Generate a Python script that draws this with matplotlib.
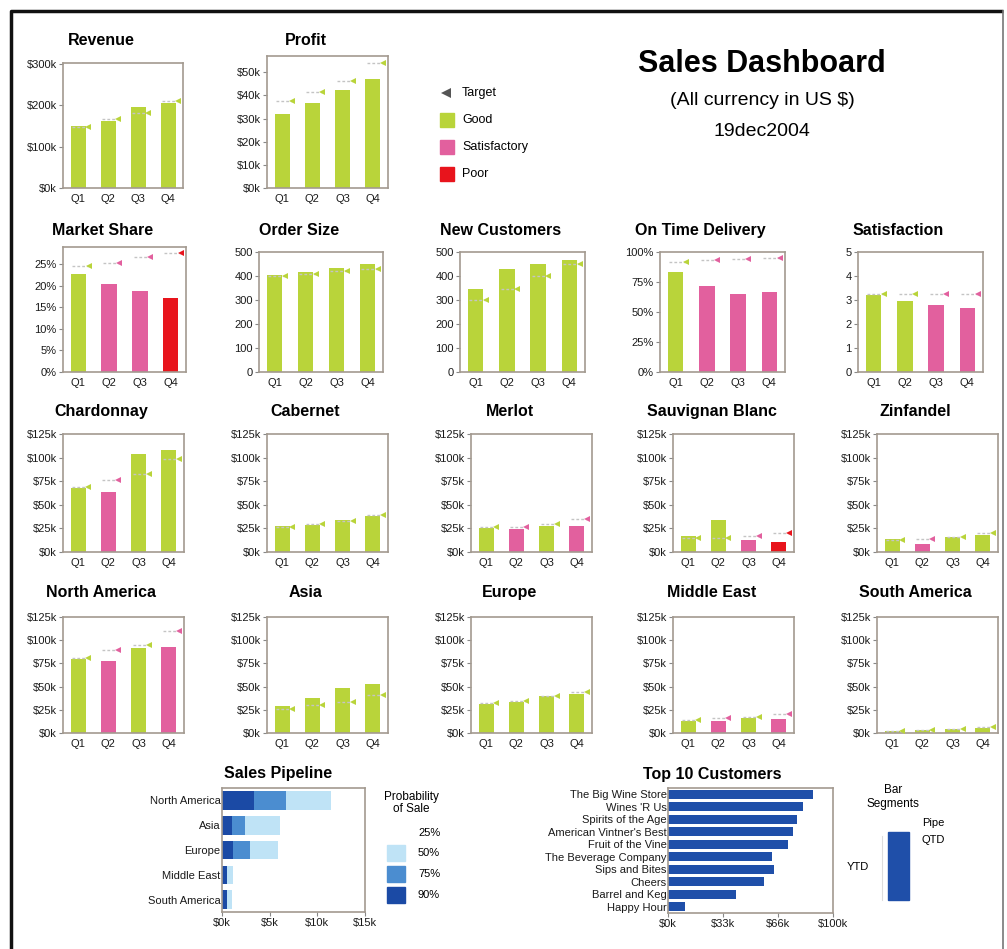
import numpy as np
import matplotlib
matplotlib.use('Agg')
import matplotlib.pyplot as plt
from matplotlib.patches import Rectangle

plt.rcParams['font.family'] = ['Liberation Sans', 'DejaVu Sans']

# ---- data (k$ unless noted) ----
quarters = ['Q1', 'Q2', 'Q3', 'Q4']

revenue = [150, 163, 195, 205]
revenue_target = [148, 166, 180, 210]
revenue_status = ['G', 'G', 'G', 'G']

profit = [32, 36.5, 42.5, 47]
profit_target = [37.5, 41.5, 46, 54]
profit_status = ['G', 'G', 'G', 'G']

market_share = [22.8, 20.5, 18.8, 17.2]
market_share_target = [24.5, 25.2, 26.6, 27.6]
market_share_status = ['G', 'S', 'S', 'P']

order_size = [404, 417, 433, 450]
order_size_target = [400, 410, 420, 430]
order_size_status = ['G', 'G', 'G', 'G']

new_customers = [345, 430, 448, 466]
new_customers_target = [300, 345, 400, 450]
new_customers_status = ['G', 'G', 'G', 'G']

on_time = [83, 72, 65, 67]
on_time_target = [92, 93, 94, 95]
on_time_status = ['G', 'S', 'S', 'S']

satisfaction = [3.2, 2.95, 2.8, 2.65]
satisfaction_target = [3.25, 3.25, 3.25, 3.25]
satisfaction_status = ['G', 'G', 'S', 'S']

chardonnay = [68, 64, 104, 108]
chardonnay_target = [69, 76, 83, 99]
chardonnay_status = ['G', 'S', 'G', 'G']

cabernet = [28, 29, 34, 38]
cabernet_target = [27, 30, 33, 39]
cabernet_status = ['G', 'G', 'G', 'G']

merlot = [25, 24, 28, 28]
merlot_target = [26, 26, 30, 35]
merlot_status = ['G', 'S', 'G', 'S']

sauvignon = [17, 34, 13, 11]
sauvignon_target = [15, 15, 17, 20]
sauvignon_status = ['G', 'G', 'S', 'P']

zinfandel = [14, 9, 16, 18]
zinfandel_target = [13, 14, 16, 20]
zinfandel_status = ['G', 'S', 'G', 'G']

north_america = [80, 78, 92, 93]
north_america_target = [81, 89, 95, 110]
north_america_status = ['G', 'S', 'G', 'S']

asia = [29, 38, 49, 53]
asia_target = [26, 30, 33, 41]
asia_status = ['G', 'G', 'G', 'G']

europe = [31, 33, 40, 42]
europe_target = [32, 34, 40, 44]
europe_status = ['G', 'G', 'G', 'G']

middle_east = [12.5, 12.5, 16, 15.5]
middle_east_target = [14, 16, 17.5, 20]
middle_east_status = ['G', 'S', 'G', 'S']

south_america = [2, 3, 4, 5]
south_america_target = [2.5, 3.6, 4.7, 6]
south_america_status = ['G', 'G', 'G', 'G']

pipe_regions = ['North America', 'Asia', 'Europe', 'Middle East', 'South America']
pipe_90 = [3.35, 1.0, 1.2, 0.5, 0.5]
pipe_75 = [3.4, 1.4, 1.7, 0.0, 0.0]
pipe_50 = [4.65, 3.7, 3.0, 0.7, 0.5]

customers = ['The Big Wine Store', "Wines 'R Us", 'Spirits of the Age',
             "American Vintner's Best", 'Fruit of the Vine', 'The Beverage Company',
             'Sips and Bites', 'Cheers', 'Barrel and Keg', 'Happy Hour']
customer_ytd = [88, 82, 78, 76, 73, 63, 64, 58, 41, 10]

# ---- style ----
W, H = 1007, 949
colors = {'G': '#b9d43a', 'S': '#e2609e', 'P': '#e8141c'}
frame_col = '#a39a90'
fig = plt.figure(figsize=(W / 100, H / 100), dpi=100)

# overlay in pixel coords for the border, legends and header text
ov = fig.add_axes([0, 0, 1, 1], zorder=0)
ov.set_xlim(0, W)
ov.set_ylim(H, 0)
ov.axis('off')
ov.plot([11, 11, 1003], [H + 5, 11, 11], color='#111111', lw=2.5, solid_capstyle='butt')
ov.plot([1003, 1003], [11, H + 5], color='#777777', lw=1.2)


def px_axes(l, t, r, b):
    ax = fig.add_axes([l / W, 1 - b / H, (r - l) / W, (b - t) / H], zorder=2)
    for s in ax.spines.values():
        s.set_color(frame_col)
        s.set_linewidth(1.2)
    ax.tick_params(axis='both', labelsize=8, colors='#1a1a1a', length=3, width=0.8, pad=1.5)
    ax.tick_params(axis='y', color='#888888')
    return ax


def kpi(box, title, title_y, vals, targets, status, ylim, ticks, fmt):
    l, t, r, b = box
    ax = px_axes(l, t, r, b)
    x = np.arange(len(quarters))
    ax.bar(x, vals, width=0.5, color=[colors[s] for s in status], zorder=2)
    for xi, tv, s in zip(x, targets, status):
        ax.plot([xi - 0.2, xi + 0.33], [tv, tv], color='#c4c4c4', lw=1,
                ls=(0, (2, 1.5)), zorder=3)
        ax.plot(xi + 0.33, tv, marker='<', color=colors[s], ms=4.5, mew=0, zorder=4)
    ax.set_xlim(-0.5, 3.5)
    ax.set_ylim(*ylim)
    ax.set_xticks(x)
    ax.set_xticklabels(quarters)
    ax.tick_params(axis='x', length=0, pad=4)
    ax.set_yticks(ticks)
    ax.set_yticklabels([fmt % v for v in ticks])
    ov.text((l + r) / 2 - 22, title_y + 5, title, ha='center', va='baseline',
            fontsize=11.5, fontweight='bold')
    return ax


money = '$%dk'
k125 = [0, 25, 50, 75, 100, 125]

kpi((63, 63, 183, 188), 'Revenue', 40, revenue, revenue_target, revenue_status,
    (0, 302), [0, 100, 200, 300], money)
kpi((267, 56, 388, 188), 'Profit', 40, profit, profit_target, profit_status,
    (0, 57), [0, 10, 20, 30, 40, 50], money)

kpi((63, 247, 186, 372), 'Market Share', 230, market_share, market_share_target,
    market_share_status, (0, 29), [0, 5, 10, 15, 20, 25], '%d%%')
kpi((259, 252, 383, 372), 'Order Size', 230, order_size, order_size_target,
    order_size_status, (0, 500), [0, 100, 200, 300, 400, 500], '%d')
kpi((460, 252, 585, 372), 'New Customers', 230, new_customers, new_customers_target,
    new_customers_status, (0, 500), [0, 100, 200, 300, 400, 500], '%d')
kpi((660, 252, 785, 372), 'On Time Delivery', 230, on_time, on_time_target,
    on_time_status, (0, 100), [0, 25, 50, 75, 100], '%d%%')
kpi((858, 252, 983, 372), 'Satisfaction', 230, satisfaction, satisfaction_target,
    satisfaction_status, (0, 5), [0, 1, 2, 3, 4, 5], '%d')

row3 = [('Chardonnay', chardonnay, chardonnay_target, chardonnay_status),
        ('Cabernet', cabernet, cabernet_target, cabernet_status),
        ('Merlot', merlot, merlot_target, merlot_status),
        ('Sauvignan Blanc', sauvignon, sauvignon_target, sauvignon_status),
        ('Zinfandel', zinfandel, zinfandel_target, zinfandel_status)]
row4 = [('North America', north_america, north_america_target, north_america_status),
        ('Asia', asia, asia_target, asia_status),
        ('Europe', europe, europe_target, europe_status),
        ('Middle East', middle_east, middle_east_target, middle_east_status),
        ('South America', south_america, south_america_target, south_america_status)]
lefts = [63, 267, 471, 673, 877]
for (t, b, ty), row in [((434, 552, 411), row3), ((617, 733, 592), row4)]:
    for l, (name, v, tg, st) in zip(lefts, row):
        kpi((l, t, l + 121, b), name, ty, v, tg, st, (0, 125), k125, money)

# ---- header and status legend ----
ov.text(762, 64, 'Sales Dashboard', ha='center', va='center', fontsize=22, fontweight='bold')
ov.text(762, 100, '(All currency in US $)', ha='center', va='center', fontsize=14)
ov.text(762, 131, '19dec2004', ha='center', va='center', fontsize=14)

ov.plot(446, 93, marker='<', color='#555555', ms=7, mew=0)
ov.text(462, 93, 'Target', va='center', fontsize=9)
for y, key, lab in [(120, 'G', 'Good'), (147, 'S', 'Satisfactory'), (174, 'P', 'Poor')]:
    ov.add_patch(Rectangle((440, y - 7), 14, 14, color=colors[key]))
    ov.text(462, y, lab, va='center', fontsize=9)

# ---- sales pipeline ----
pax = px_axes(222, 788, 365, 912)
yy = np.arange(len(pipe_regions))
left = np.zeros(len(pipe_regions))
for vals, c in [(pipe_90, '#1b4aa5'), (pipe_75, '#4b8dd0'), (pipe_50, '#bfe3f6')]:
    pax.barh(yy, vals, left=left, height=0.75, color=c, zorder=2)
    left = left + np.array(vals)
pax.set_ylim(len(pipe_regions) - 0.5, -0.5)
pax.set_xlim(0, 15)
pax.set_xticks([0, 5, 10, 15])
pax.set_xticklabels(['$%dk' % v for v in [0, 5, 10, 15]])
pax.set_yticks(yy)
pax.set_yticklabels(pipe_regions)
pax.tick_params(axis='y', length=0, pad=1)
pax.tick_params(axis='x', color='#888888')
ov.text(278, 778, 'Sales Pipeline', ha='center', va='baseline', fontsize=11.5, fontweight='bold')
ov.text(411, 803, 'Probability\nof Sale', ha='center', va='center', fontsize=8.5, linespacing=1.1)
for y, lab, c in [(833, '25%', 'white'), (853, '50%', '#bfe3f6'),
                  (874, '75%', '#4b8dd0'), (895, '90%', '#1b4aa5')]:
    ov.add_patch(Rectangle((387, y - 8), 18, 16, color=c))
    ov.text(418, y, lab, va='center', fontsize=8)

# ---- top 10 customers ----
cax = px_axes(668, 788, 833, 913)
cy = np.arange(len(customers))
cax.barh(cy, customer_ytd, height=0.7, color='#1f4fa9', zorder=2)
cax.set_ylim(len(customers) - 0.5, -0.5)
cax.set_xlim(0, 100)
cax.set_xticks([0, 100 / 3, 200 / 3, 100])
cax.set_xticklabels(['$0k', '$33k', '$66k', '$100k'])
cax.set_yticks(cy)
cax.set_yticklabels(customers, fontsize=8)
cax.tick_params(axis='y', length=0, pad=1)
cax.tick_params(axis='x', color='#888888')
ov.text(712, 779, 'Top 10 Customers', ha='center', va='baseline', fontsize=11.5, fontweight='bold')

ov.text(893, 797, 'Bar\nSegments', ha='center', va='center', fontsize=8.5, linespacing=1.3)
ov.plot([882, 882], [836, 900], color='#dddddd', lw=0.8)
ov.add_patch(Rectangle((888, 832), 21, 68, color='#1f4fa9'))
ov.text(922, 823, 'Pipe', va='center', fontsize=8)
ov.text(922, 840, 'QTD', va='center', fontsize=8)
ov.text(858, 867, 'YTD', ha='center', va='center', fontsize=8)

fig.savefig('out.png', dpi=100)
